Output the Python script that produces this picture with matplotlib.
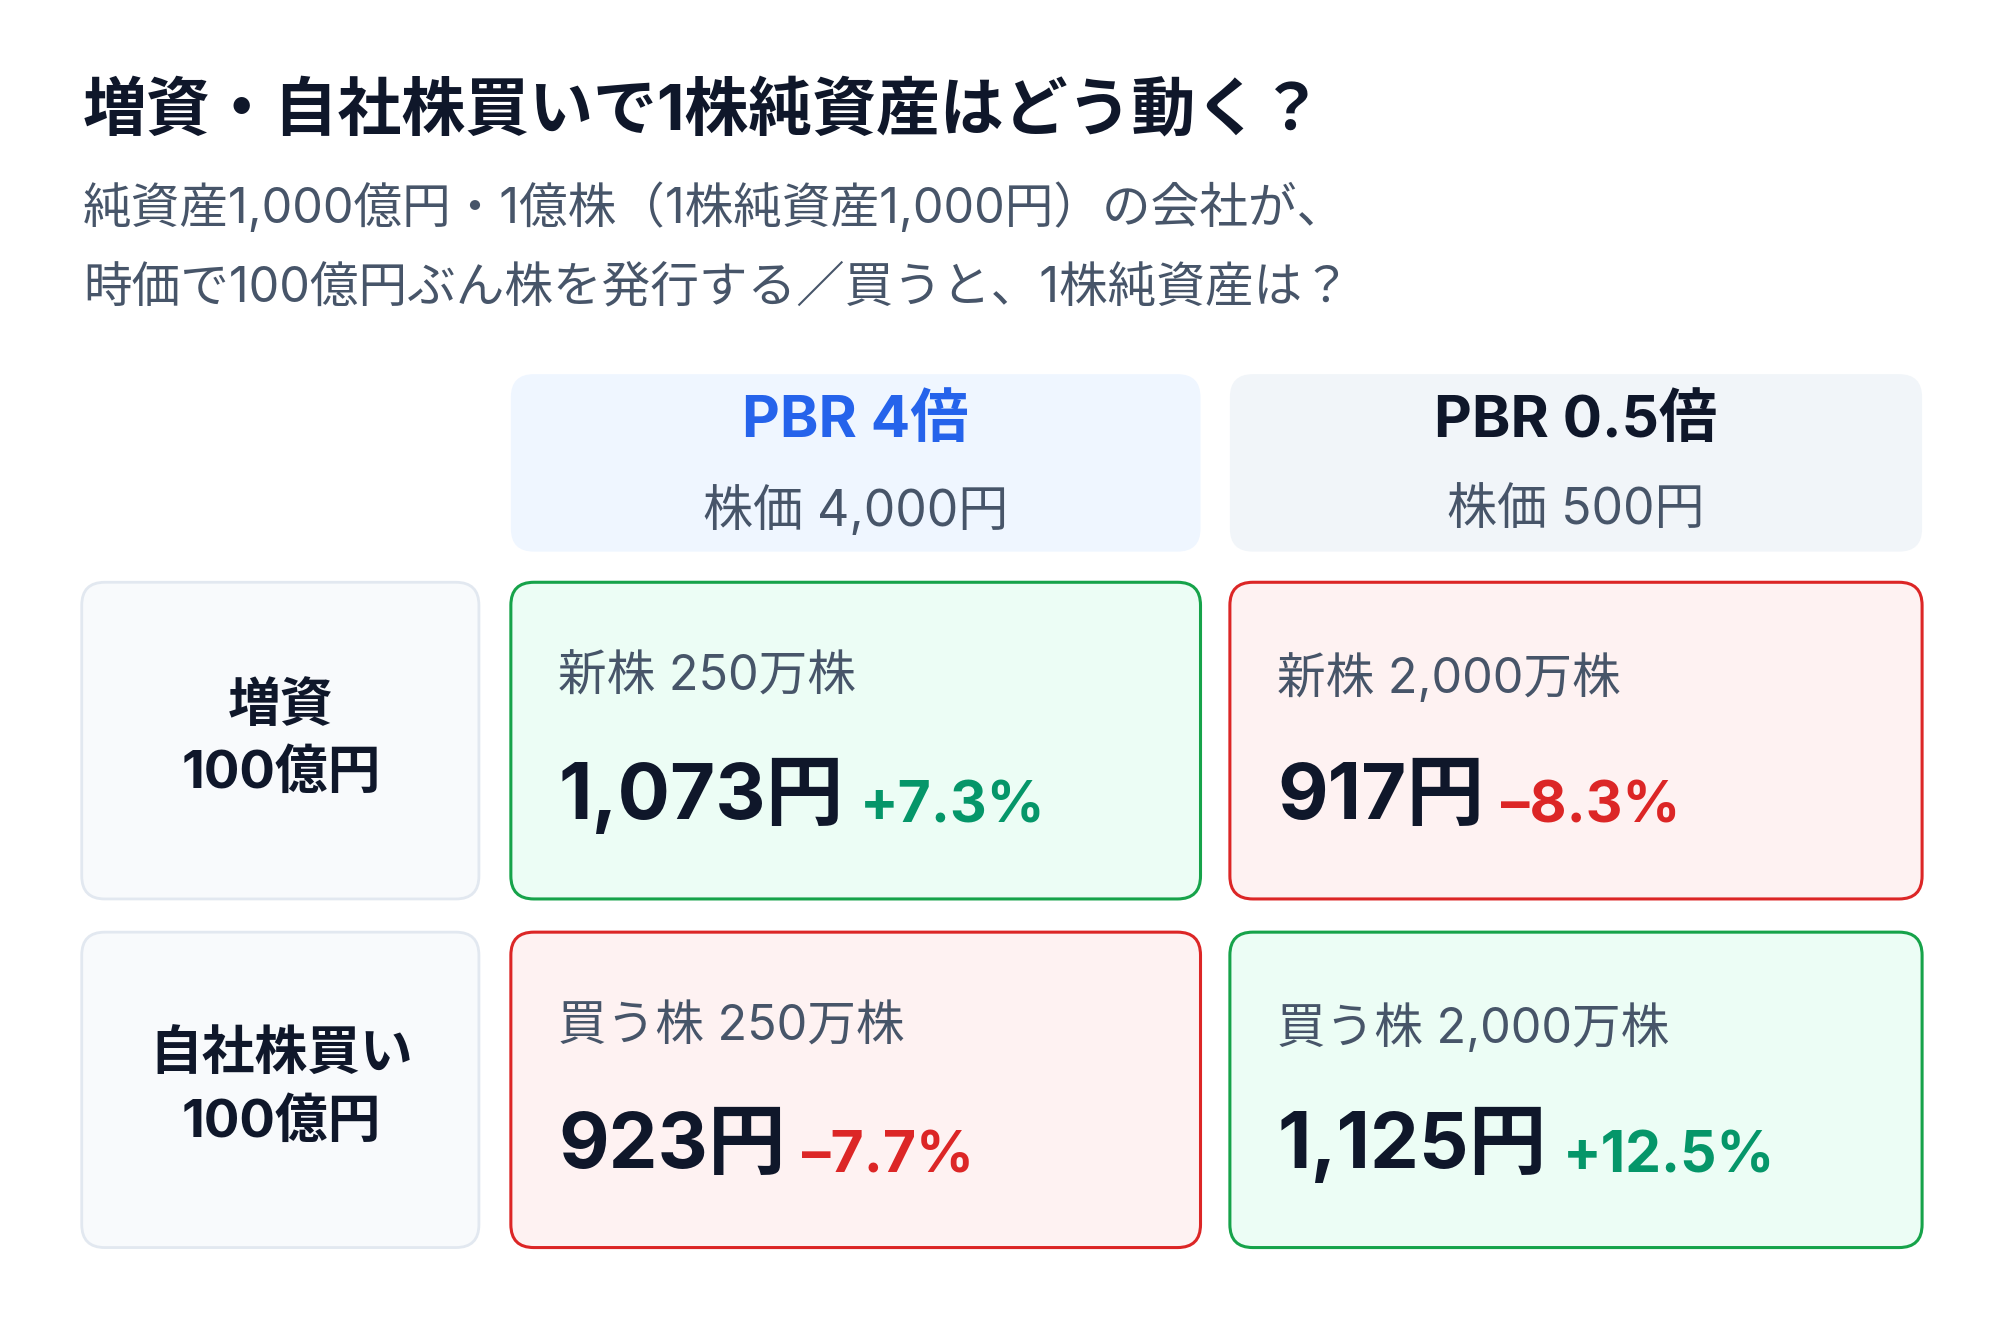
import matplotlib.pyplot as plt
from matplotlib.patches import FancyBboxPatch

plt.rcParams['font.family'] = ['Inter', 'Noto Sans CJK JP', 'DejaVu Sans']

title = "増資・自社株買いで1株純資産はどう動く？"
subtitle = ["純資産1,000億円・1億株（1株純資産1,000円）の会社が、",
            "時価で100億円ぶん株を発行する／買うと、1株純資産は？"]
col_titles = ["PBR 4倍", "PBR 0.5倍"]
col_prices = ["株価 4,000円", "株価 500円"]
row_labels = ["増資\n100億円", "自社株買い\n100億円"]
cell_shares = [["新株 250万株", "新株 2,000万株"],
               ["買う株 250万株", "買う株 2,000万株"]]
cell_values = [["1,073円", "917円"], ["923円", "1,125円"]]
cell_changes = [[7.3, -8.3], [-7.7, 12.5]]

DARK = "#0f172a"
GRAY = "#475569"
GREEN = "#059669"
RED = "#dc2626"

fig = plt.figure(figsize=(20, 13.28), dpi=100)
ax = fig.add_axes([0, 0, 1, 1])
ax.set_xlim(0, 1566)
ax.set_ylim(1040, 0)
ax.axis('off')


def box(x0, y0, x1, y1, fc, ec, lw=2.0):
    ax.add_patch(FancyBboxPatch((x0, y0), x1 - x0, y1 - y0,
                                boxstyle="round,pad=0,rounding_size=18",
                                fc=fc, ec=ec, lw=lw))


ax.text(65, 88, title, fontsize=46, fontweight='bold', color=DARK, va='center')
for i, line in enumerate(subtitle):
    ax.text(65, 163 + i * 63, line, fontsize=35, color=GRAY, va='center')

col_x = [(400, 940), (963, 1505)]
row_y = [(456, 704), (730, 977)]
head_fc = ["#eff6ff", "#f1f5f9"]
head_col = ["#2563eb", DARK]

for j, (x0, x1) in enumerate(col_x):
    box(x0, 293, x1, 432, head_fc[j], "none", 0)
    cx = (x0 + x1) / 2
    ax.text(cx, 330, col_titles[j], fontsize=42, fontweight='bold',
            color=head_col[j], ha='center', va='center')
    ax.text(cx, 400, col_prices[j], fontsize=36, color=GRAY,
            ha='center', va='center')

for i, (y0, y1) in enumerate(row_y):
    box(64, y0, 375, y1, "#f8fafc", "#e2e8f0", 2)
    ax.text(220, (y0 + y1) / 2, row_labels[i], fontsize=38, fontweight='bold',
            color=DARK, ha='center', va='center', linespacing=1.45)
    for j, (x0, x1) in enumerate(col_x):
        ch = cell_changes[i][j]
        up = ch > 0
        box(x0, y0, x1, y1, "#ecfdf5" if up else "#fef2f2",
            "#16a34a" if up else RED, 2.2)
        ax.text(x0 + 37, y0 + 75, cell_shares[i][j], fontsize=35,
                color=GRAY, va='center')
        num = ax.text(x0 + 37, y0 + 185, cell_values[i][j], fontsize=56,
                      fontweight='bold', color=DARK, va='baseline')
        pct = f"+{ch}%" if up else f"\u2013{abs(ch)}%"
        ax.annotate(pct, xy=(1, 0), xycoords=num, xytext=(12, 0),
                    textcoords='offset points', fontsize=41, fontweight='bold',
                    color=GREEN if up else RED, va='bottom', ha='left')

fig.savefig("out.png", dpi=100, facecolor='white')
